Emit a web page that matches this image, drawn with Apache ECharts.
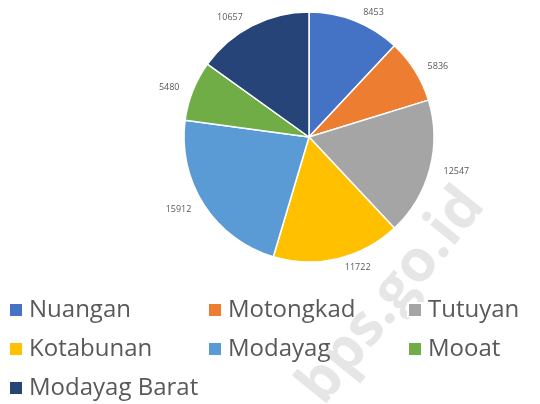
<!DOCTYPE html>
<html>
<head>
<meta charset="utf-8">
<script src="https://cdn.jsdelivr.net/npm/echarts@6/dist/echarts.min.js"></script>
<style>
  html, body { margin: 0; padding: 0; background: #fff; }
  #chart { width: 540px; height: 404px; }
</style>
</head>
<body>
<div id="chart"></div>
<script>
  var kecamatan = ['Nuangan', 'Motongkad', 'Tutuyan', 'Kotabunan', 'Modayag', 'Mooat', 'Modayag Barat'];
  var jumlah = [8453, 5836, 12547, 11722, 15912, 5480, 10657];
  var warna = ['#4472C4', '#ED7D31', '#A5A5A5', '#FFC000', '#5B9BD5', '#70AD47', '#264478'];
  // legend columns, as laid out in the picture
  var kolom1 = ['Nuangan', 'Kotabunan', 'Modayag Barat'];
  var kolom2 = ['Motongkad', 'Modayag'];
  var kolom3 = ['Tutuyan', 'Mooat'];

  var font = '"Open Sans", "Noto Sans", sans-serif';

  function legendCol(data, left) {
    return {
      data: data,
      orient: 'vertical',
      left: left,
      top: 295,
      padding: 0,
      icon: 'rect',
      itemWidth: 14,
      itemHeight: 14,
      itemGap: 9,
      selectedMode: false,
      textStyle: {
        fontFamily: font,
        fontSize: 24,
        lineHeight: 30,
        color: '#595959',
        padding: [0, 0, 0, 1]
      }
    };
  }

  var chart = echarts.init(document.getElementById('chart'));
  chart.setOption({
    animation: false,
    color: warna,
    graphic: [{
      type: 'text',
      x: 392,
      y: 296,
      rotation: 0.89,
      z: -10,
      silent: true,
      style: {
        text: 'bps.go.id',
        fill: '#e6e6e6',
        font: 'bold 58px "Open Sans", sans-serif',
        textAlign: 'center',
        textVerticalAlign: 'middle'
      }
    }],
    legend: [
      legendCol(kolom1, 8),
      legendCol(kolom2, 207),
      legendCol(kolom3, 407)
    ],
    series: [{
      type: 'pie',
      center: [309, 137],
      radius: [0, 125],
      startAngle: 90,
      clockwise: true,
      itemStyle: { borderColor: '#fff', borderWidth: 1.5 },
      label: {
        show: true,
        position: 'outside',
        formatter: '{c}',
        fontFamily: font,
        fontSize: 9,
        color: '#595959'
      },
      labelLine: { show: false, length: 9, length2: 0 },
      emphasis: { disabled: true },
      data: kecamatan.map(function (k, i) {
        return { name: k, value: jumlah[i] };
      })
    }]
  });
</script>
</body>
</html>
